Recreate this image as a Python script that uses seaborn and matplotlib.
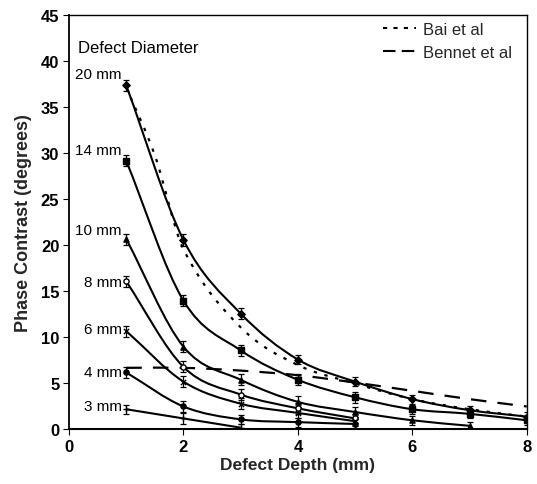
import numpy as np
import pandas as pd
import matplotlib
matplotlib.use("Agg")
import matplotlib.pyplot as plt
from matplotlib.path import Path
from matplotlib.patches import PathPatch
from matplotlib.lines import Line2D
import seaborn as sns

# Measured phase contrast (degrees) versus defect depth (mm) for each defect diameter
depth_full = [1, 2, 3, 4, 5, 6, 7, 8]
d20 = [37.4, 20.6, 12.6, 7.6, 5.2, 3.3, 2.1, 1.4]
d14 = [29.2, 14.0, 8.6, 5.4, 3.5, 2.2, 1.7, 1.0]
depth_10 = [1, 2, 3, 4, 5, 6, 7]
d10 = [20.7, 9.0, 5.4, 3.0, 1.9, 1.0, 0.4]
depth_5 = [1, 2, 3, 4, 5]
d8 = [16.1, 6.8, 3.8, 2.3, 1.2]
d6 = [10.7, 5.2, 2.8, 1.8, 0.9]
d4 = [6.2, 2.5, 1.1, 0.8, 0.6]
depth_3 = [1, 2, 3]
d3 = [2.2, 1.2, 0.2]

# Error bar half-widths for each series
e20 = [0.6, 0.7, 0.6, 0.5, 0.5, 0.5, 0.5, 0.5]
e14 = [0.6, 0.6, 0.6, 0.6, 0.6, 0.5, 0.5, 0.5]
e10 = [0.6, 0.6, 0.6, 0.6, 0.5, 0.5, 0.4]
e8 = [0.6, 0.6, 0.6, 0.6, 0.5]
e6 = [0.6, 0.6, 0.6, 0.6, 0.5]
e4 = [0.6, 0.6, 0.5, 0.5, 0.5]
e3 = [0.5, 0.6, 0.4]

# Published model curves
model_depth = [1, 1.5, 2, 3, 4, 5, 6, 7, 8]
bai = [37.2, 29.8, 19.6, 11.1, 7.0, 5.0, 3.3, 2.2, 1.4]
bennet_depth = [1, 2, 3, 4, 5, 6, 7, 8]
bennet = [6.7, 6.7, 6.4, 5.9, 5.1, 4.2, 3.3, 2.5]

diam_labels = ["20 mm", "14 mm", "10 mm", "8 mm", "6 mm", "4 mm", "3 mm"]
label_heights = [38.6, 30.4, 21.7, 16.0, 10.9, 6.3, 2.5]

series = [
    (depth_full, d20, e20, "D", True),
    (depth_full, d14, e14, "s", True),
    (depth_10, d10, e10, "^", True),
    (depth_5, d8, e8, "o", False),
    (depth_5, d6, e6, "x", True),
    (depth_5, d4, e4, "o", True),
    (depth_3, d3, e3, "+", True),
]

sns.set_theme(style="white")
plt.rcParams["font.family"] = ["Liberation Sans", "DejaVu Sans"]

fig = plt.figure(figsize=(5.37, 4.85), dpi=100)
ax = fig.add_axes([0.1285, 0.1124, 0.8525, 0.8536])


def smooth_path(xs, ys):
    """Cubic Bezier path through the points (Catmull-Rom style tangents)."""
    pts = np.column_stack([xs, ys]).astype(float)
    n = len(pts)
    verts = [pts[0]]
    codes = [Path.MOVETO]
    for i in range(n - 1):
        p0 = pts[i - 1] if i > 0 else pts[i]
        p1 = pts[i]
        p2 = pts[i + 1]
        p3 = pts[i + 2] if i + 2 < n else pts[i + 1]
        h = p2[0] - p1[0]
        # scale tangents by segment width so uneven spacing stays smooth
        t1 = (p2 - p0) / max(p2[0] - p0[0], 1e-9) * h
        t2 = (p3 - p1) / max(p3[0] - p1[0], 1e-9) * h
        c1 = p1 + t1 / 3.0
        c2 = p2 - t2 / 3.0
        verts += [c1, c2, p2]
        codes += [Path.CURVE4] * 3
    return Path(verts, codes)


def draw_curve(xs, ys, **kw):
    patch = PathPatch(smooth_path(xs, ys), fill=False, **kw)
    ax.add_patch(patch)


for (xs, ys, es, mk, filled), name in zip(series, diam_labels):
    draw_curve(xs, ys, color="black", lw=1.5, zorder=3)
    ax.errorbar(xs, ys, yerr=es, fmt="none", ecolor="black", elinewidth=0.9,
                capsize=2.5, capthick=0.9, zorder=4)
    df = pd.DataFrame({"depth": xs, "phase": ys})
    sns.scatterplot(data=df, x="depth", y="phase", ax=ax, marker=mk, s=14,
                    color="black" if filled else "white",
                    edgecolor="black", linewidth=1.0, zorder=5, legend=False)

draw_curve(model_depth, bai, color="black", lw=1.6, linestyle=(0, (1.5, 3.5)), zorder=2)
draw_curve(bennet_depth, bennet, color="black", lw=1.6, linestyle=(0, (7, 5)), zorder=2)

for name, h in zip(diam_labels, label_heights):
    ax.text(0.92, h, name, ha="right", va="center", fontsize=11, color="black")

ax.text(0.16, 41.5, "Defect Diameter", ha="left", va="center", fontsize=12, color="black")

handles = [Line2D([], [], color="black", lw=1.5, linestyle=(0, (2, 3))),
           Line2D([], [], color="black", lw=1.5, linestyle=(0, (6, 3)))]
leg = ax.legend(handles, ["Bai et al", "Bennet et al"], loc="upper right",
                frameon=False, fontsize=12, handlelength=2.0, handletextpad=0.4,
                labelspacing=0.45, bbox_to_anchor=(1.0, 1.02))

ax.set_xlim(0, 8)
ax.set_ylim(0, 45)
ax.set_xticks([0, 2, 4, 6, 8])
ax.set_yticks(range(0, 50, 5))
ax.set_xlabel("Defect Depth (mm)", fontsize=12.5, fontweight="bold", labelpad=2)
ax.set_ylabel("Phase Contrast (degrees)", fontsize=13, fontweight="bold", labelpad=6)
for lab in ax.get_xticklabels() + ax.get_yticklabels():
    lab.set_fontweight("bold")
    lab.set_fontsize(12)
ax.tick_params(axis="both", direction="out", length=4, width=0.8, colors="black",
               left=True, bottom=True, pad=3)
for side, sp in ax.spines.items():
    sp.set_color("black")
    sp.set_linewidth(1.0)
ax.spines["bottom"].set_linewidth(1.5)
ax.spines["left"].set_linewidth(1.3)

fig.savefig("out.png", dpi=100, facecolor="white")
